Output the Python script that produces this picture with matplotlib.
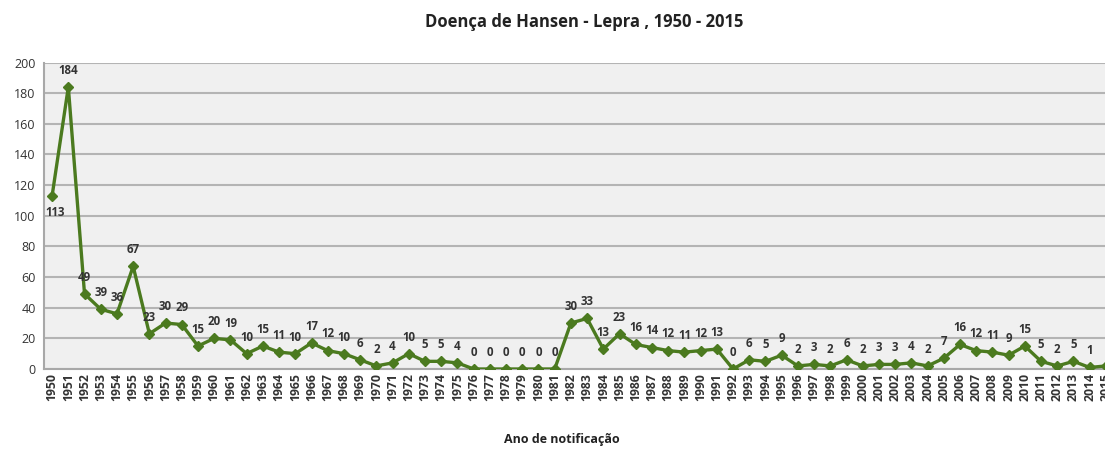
import matplotlib
matplotlib.use("Agg")
import matplotlib.pyplot as plt

# Doença de Hansen - casos notificados por ano
years = list(range(1950, 2016))
cases = [113, 184, 49, 39, 36, 67, 23, 30, 29, 15,
         20, 19, 10, 15, 11, 10, 17, 12, 10, 6,
         2, 4, 10, 5, 5, 4, 0, 0, 0, 0,
         0, 0, 30, 33, 13, 23, 16, 14, 12, 11,
         12, 13, 0, 6, 5, 9, 2, 3, 2, 6,
         2, 3, 3, 4, 2, 7, 16, 12, 11, 9,
         15, 5, 2, 5, 1, 2]
y_ticks = [0, 20, 40, 60, 80, 100, 120, 140, 160, 180, 200]

plt.rcParams['font.family'] = ['Open Sans', 'DejaVu Sans']

fig = plt.figure(figsize=(11.05, 4.49), dpi=100)
# plot area runs a little past the right edge, like the cropped original
ax = fig.add_axes([44 / 1105, 80 / 449, 1070 / 1105, 306.5 / 449])
ax.set_facecolor('#f0f0f0')

x = list(range(len(years)))
green = '#4b7a1f'
ax.plot(x, cases, color=green, linewidth=2.4, marker='D', markersize=5.5,
        markerfacecolor=green, markeredgecolor=green, zorder=3)

for i, v in enumerate(cases):
    if i == len(cases) - 1:
        continue  # label cut off in the original
    if years[i] == 1950:
        ax.annotate(str(v), (i, v), xytext=(2, -12), textcoords='offset points',
                    ha='center', va='center', fontsize=8.3, fontweight='bold',
                    color='#333333')
    else:
        ax.annotate(str(v), (i, v), xytext=(0, 12), textcoords='offset points',
                    ha='center', va='center', fontsize=8.3, fontweight='bold',
                    color='#333333')

ax.set_xlim(-0.5, len(years) - 0.5)
ax.set_ylim(0, 200)
ax.set_yticks(y_ticks)
ax.set_xticks(x)
ax.set_xticklabels([str(y) for y in years], rotation=90, fontsize=8.8,
                   fontweight='bold', color='#333333')
ax.tick_params(axis='y', labelsize=9, colors='#333333', length=0, pad=6)
ax.tick_params(axis='x', length=0, pad=3)

ax.grid(axis='y', color='#b4b4b4', linewidth=1.5)
ax.set_axisbelow(True)
for side in ['top', 'right']:
    ax.spines[side].set_visible(False)
for side in ['left', 'bottom']:
    ax.spines[side].set_color('#a8a8a8')
    ax.spines[side].set_linewidth(1.5)

fig.text(584 / 1105, 1 - 22 / 449, 'Doença de Hansen - Lepra , 1950 - 2015',
         ha='center', va='center', fontsize=12, fontweight='bold', color='#222222')
fig.text(562 / 1105, 1 - 440 / 449, 'Ano de notificação',
         ha='center', va='center', fontsize=9, fontweight='bold', color='#222222')

fig.savefig('out.png', dpi=100)
